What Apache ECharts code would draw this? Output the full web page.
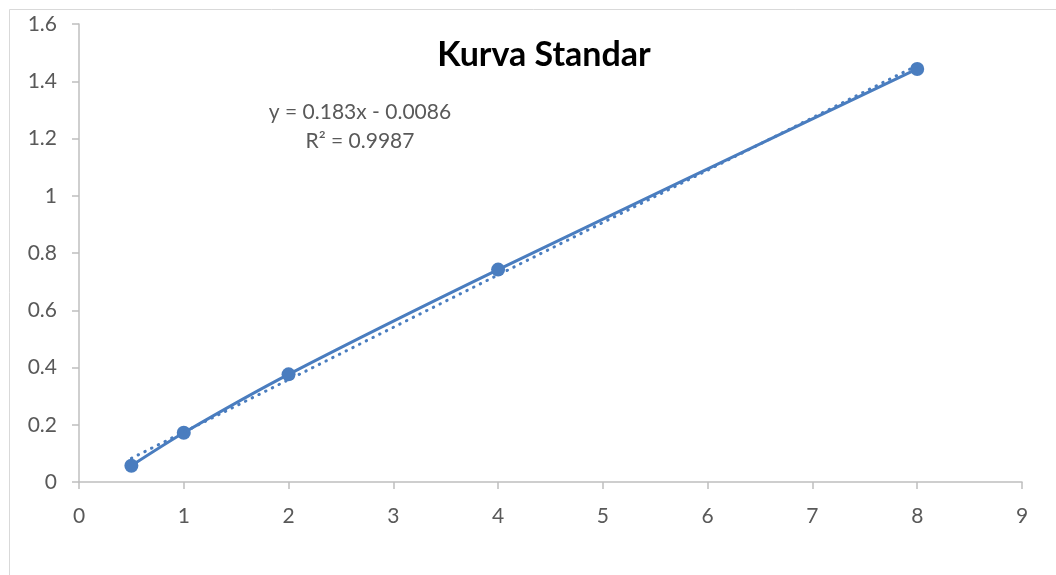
<!DOCTYPE html>
<html>
<head>
<meta charset="utf-8">
<title>Kurva Standar</title>
<script src="https://cdn.jsdelivr.net/npm/echarts@6/dist/echarts.min.js"></script>
<style>
  html, body { margin: 0; padding: 0; background: #ffffff; }
  #chart { width: 1056px; height: 575px; }
</style>
</head>
<body>
<div id="chart"></div>
<script>
// Standard curve measurements: concentration vs. absorbance
const concentrations = [0.5, 1, 2, 4, 8];
const absorbances = [0.057, 0.172, 0.376, 0.742, 1.443];

// Linear trendline shown on the chart
const trendSlope = 0.183;
const trendIntercept = -0.0086;
const trendLabel = ['y = 0.183x - 0.0086', 'R\u00B2 = 0.9987'];

const xTicks = { min: 0, max: 9, step: 1 };
const yTicks = { min: 0, max: 1.6, step: 0.2 };

const FONT = 'Lato, "Open Sans", "Noto Sans", sans-serif';
const BLUE = '#4a7dbf';
const AXIS_GREY = '#bfbfbf';
const TEXT_GREY = '#595959';

const points = concentrations.map((x, i) => [x, absorbances[i]]);
const xFirst = concentrations[0];
const xLast = concentrations[concentrations.length - 1];
const trendPoints = [xFirst, xLast].map(x => [x, trendSlope * x + trendIntercept]);

const chart = echarts.init(document.getElementById('chart'), null, { renderer: 'canvas' });

chart.setOption({
  backgroundColor: '#ffffff',
  animation: false,
  title: {
    text: 'Kurva Standar',
    left: 539,
    top: 33,
    textAlign: 'center',
    textStyle: { fontFamily: FONT, fontSize: 34, fontWeight: 'bold', color: '#000000' }
  },
  graphic: [
    {
      type: 'rect',
      shape: { x: 9.5, y: 9.5, width: 1100, height: 600 },
      style: { fill: 'none', stroke: '#d9d9d9', lineWidth: 1 },
      silent: true,
      z: 0
    },
    {
      type: 'text',
      x: 360,
      y: 98,
      style: {
        text: trendLabel.join('\n'),
        align: 'center',
        verticalAlign: 'top',
        lineHeight: 29,
        fontFamily: FONT,
        fontSize: 21,
        fill: TEXT_GREY
      },
      z: 10
    }
  ],
  grid: { left: 79, right: 34, top: 24, bottom: 93, containLabel: false },
  xAxis: {
    type: 'value',
    min: xTicks.min,
    max: xTicks.max,
    interval: xTicks.step,
    splitLine: { show: false },
    axisLine: { show: true, lineStyle: { color: AXIS_GREY, width: 1.5 } },
    axisTick: { show: true, length: 7, lineStyle: { color: AXIS_GREY, width: 1.5 } },
    axisLabel: { color: TEXT_GREY, fontFamily: FONT, fontSize: 21, margin: 24 }
  },
  yAxis: {
    type: 'value',
    min: yTicks.min,
    max: yTicks.max,
    interval: yTicks.step,
    splitLine: { show: false },
    axisLine: { show: true, lineStyle: { color: AXIS_GREY, width: 1.5 } },
    axisTick: { show: true, length: 7, lineStyle: { color: AXIS_GREY, width: 1.5 } },
    axisLabel: { color: TEXT_GREY, fontFamily: FONT, fontSize: 21, margin: 22 }
  },
  series: [
    {
      name: 'Linear (Absorbansi)',
      type: 'line',
      data: trendPoints,
      symbol: 'none',
      lineStyle: { color: BLUE, width: 3, type: [0.5, 7], cap: 'round' },
      z: 3
    },
    {
      name: 'Absorbansi',
      type: 'line',
      data: points,
      smooth: 0.3,
      symbol: 'circle',
      symbolSize: 14,
      itemStyle: { color: BLUE },
      lineStyle: { color: BLUE, width: 3 },
      z: 2
    }
  ]
});
</script>
</body>
</html>
